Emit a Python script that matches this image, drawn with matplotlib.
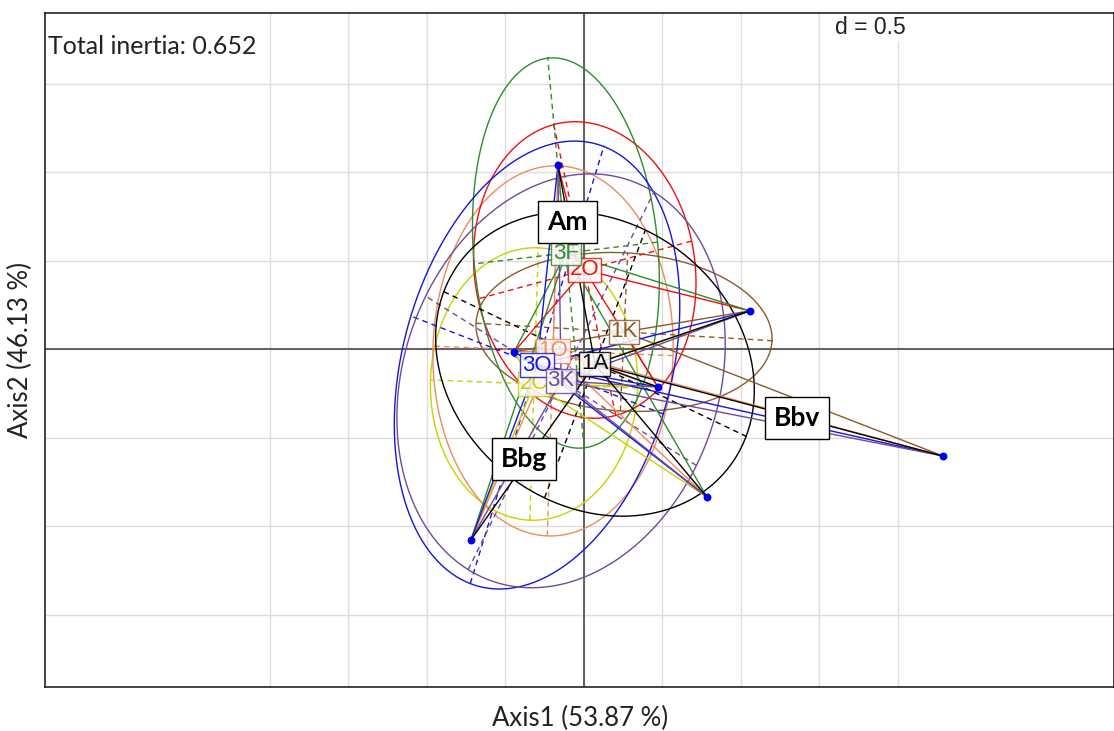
import numpy as np
import matplotlib.pyplot as plt

# site scores (blue dots)
site_x = [-0.166, 1.057, -0.446, 0.471, 2.287, 0.783, -0.720]
site_y = [1.042, 0.218, -0.014, -0.212, -0.602, -0.833, -1.076]

# species scores
species = ['Am', 'Bbg', 'Bbv']
species_x = [-0.108, -0.382, 1.357]
species_y = [0.720, -0.619, -0.387]

# groups: centroid, ellipse half axes and angle (deg), member sites
groups = ['2C', '1O', '1K', '2O', '3F', '3O', '3K', '1A']
group_col = ['#c8d200', '#ef8a5c', '#8b5a2b', '#ee1010', '#2e8b2e', '#1515d8', '#6f4a9c', '#000000']
group_x = [-0.318, -0.197, 0.255, 0.005, -0.115, -0.299, -0.146, 0.070]
group_y = [-0.195, -0.008, 0.099, 0.449, 0.545, -0.088, -0.177, -0.082]
ell_a = [0.77, 1.046, 0.944, 0.845, 1.107, 1.306, 1.22, 1.046]
ell_b = [0.66, 0.765, 0.447, 0.70, 0.587, 0.85, 0.986, 0.822]
ell_ang = [88, 88, -3, 103.5, 96, 71, 61, -23]
members = [
    [1, 2, 3, 5, 6],
    [0, 2, 3, 4, 5, 6],
    [1, 2, 3, 4],
    [0, 1, 2, 3],
    [0, 1, 2, 5, 6],
    [0, 1, 2, 3, 4, 5, 6],
    [0, 1, 3, 4, 5, 6],
    [0, 1, 3, 4, 5, 6],
]

fig = plt.figure(figsize=(11.14, 7.31), dpi=100)
ax = fig.add_axes([45 / 1114, 44 / 731, 1069 / 1114, 674 / 731])
ax.set_xlim(-3.433, 3.376)
ax.set_ylim(-1.907, 1.901)

for v in np.arange(-2, 2.01, 0.5):
    ax.axvline(v, color='#dddddd', lw=1, zorder=0)
for v in np.arange(-1.5, 1.51, 0.5):
    ax.axhline(v, color='#dddddd', lw=1, zorder=0)
ax.axvline(0, color='#555555', lw=1.3, zorder=1)
ax.axhline(0, color='#555555', lw=1.3, zorder=1)

t = np.linspace(0, 2 * np.pi, 300)
for i, g in enumerate(groups):
    c = group_col[i]
    cx, cy = group_x[i], group_y[i]
    th = np.radians(ell_ang[i])
    a, b = ell_a[i], ell_b[i]
    ex = cx + a * np.cos(th) * np.cos(t) - b * np.sin(th) * np.sin(t)
    ey = cy + a * np.sin(th) * np.cos(t) + b * np.cos(th) * np.sin(t)
    ax.plot(ex, ey, color=c, lw=1, zorder=2)
    # ellipse axes
    ax.plot([cx - a * np.cos(th), cx + a * np.cos(th)],
            [cy - a * np.sin(th), cy + a * np.sin(th)], color=c, lw=1, ls=(0, (4, 3)), zorder=2)
    ax.plot([cx + b * np.sin(th), cx - b * np.sin(th)],
            [cy - b * np.cos(th), cy + b * np.cos(th)], color=c, lw=1, ls=(0, (4, 3)), zorder=2)
    for k in members[i]:
        ax.plot([cx, site_x[k]], [cy, site_y[k]], color=c, lw=1, zorder=3)

ax.scatter(site_x, site_y, s=22, color='#0000ee', zorder=4)

for i, g in enumerate(groups):
    ax.text(group_x[i], group_y[i], g, color=group_col[i], fontsize=16,
            family='Liberation Sans', ha='center', va='center', zorder=5,
            bbox=dict(boxstyle='square,pad=0.08', fc='white', ec=group_col[i], lw=1, alpha=0.85))

for i, s in enumerate(species):
    ax.text(species_x[i], species_y[i], s, fontsize=19, fontweight='bold', family='Lato',
            ha='center', va='center', zorder=6,
            bbox=dict(boxstyle='square,pad=0.35', fc='white', ec='black', lw=1))

ax.text(0.003, 0.95, 'Total inertia: 0.652', transform=ax.transAxes, fontsize=18,
        family='Lato', color='#222222', va='center', ha='left', zorder=7)
ax.text(0.772, 0.978, 'd = 0.5', transform=ax.transAxes, fontsize=16.5,
        family='Liberation Sans', color='#222222', va='center', ha='center', zorder=7,
        bbox=dict(fc='white', ec='none', pad=1))

ax.set_xticks([])
ax.set_yticks([])
for sp in ax.spines.values():
    sp.set_color('#222222')
    sp.set_linewidth(1.2)

fig.text(580 / 1114, 1 - 718 / 731, 'Axis1 (53.87 %)', fontsize=18.5, family='Lato',
         ha='center', va='center', color='#222222')
fig.text(20 / 1114, 1 - 350 / 731, 'Axis2 (46.13 %)', fontsize=18.5, family='Lato',
         ha='center', va='center', rotation=90, color='#222222')

fig.savefig('out.png', dpi=100)
